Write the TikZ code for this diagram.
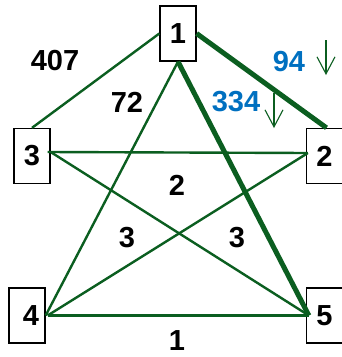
\documentclass[tikz,border=0pt]{standalone}
\usepackage{fontspec}
\setmainfont{Liberation Sans}
\usetikzlibrary{arrows.meta}
\definecolor{verde}{RGB}{11, 94, 32}
\definecolor{azul}{RGB}{0, 112, 192}

\begin{document}
\begin{tikzpicture}[
    x=1pt, y=-1pt,
    caixa/.style={
        draw,
        line width=1.3pt,
        minimum width=36pt,
        minimum height=55pt,
        inner sep=0pt,
        font=\fontsize{29}{30}\selectfont\bfseries
    },
    peso/.style={
        font=\fontsize{29}{30}\selectfont\bfseries
    },
    aresta/.style={
        draw=verde,
        line width=2.4pt
    },
    forte/.style={
        draw=verde,
        line width=5pt
    },
    seta/.style={
        -{Straight Barb[length=17pt,width=18pt]},
        draw=verde,
        line width=1.1pt
    }
]

\useasboundingbox (0,0) rectangle (342,357);

\node[caixa] (n1) at (178,33.5) {1};
\node[caixa] (n3) at (32,156) {3};
\node[caixa] (n2) at (324.5,156) {2};
\node[caixa] (n4) at (27,315.5) {\hspace*{8pt}4};
\node[caixa] (n5) at (324.5,315.5) {5};

\draw[aresta] (n1.west) -- (n3.north);
\draw[forte] (n1.east) -- ([xshift=2pt]n2.north);
\draw[aresta] (n1.south) -- (n4.east);
\draw[forte] (n1.south) -- ([xshift=3pt]n5.west);
\draw[aresta] ([xshift=-3pt,yshift=4pt]n3.east) -- ([xshift=2pt,yshift=3pt]n2.west);
\draw[aresta] ([yshift=4pt]n3.east) -- ([xshift=3pt]n5.west);
\draw[aresta] ([xshift=2pt]n4.east) -- ([xshift=2pt,yshift=3pt]n2.west);
\draw[aresta] ([xshift=2pt]n4.east) -- ([xshift=3pt]n5.west);

\node[peso] (w407) at (55,61) {407};
\node[peso] (w72) at (127,102) {72};
\node[peso, text=azul] (w94) at (289,62) {94};
\node[peso, text=azul] (w334) at (236,102) {334};
\node[peso] (w2) at (177,185) {2};
\node[peso] (w3a) at (127,238) {3};
\node[peso] (w3b) at (237,238) {3};
\node[peso] (w1) at (177,341) {1};

\coordinate (s94a) at (326,40);
\coordinate (s94b) at (326,75);
\coordinate (s334a) at (274,93);
\coordinate (s334b) at (274,128);
\draw[seta] (s94a) -- (s94b);
\draw[seta] (s334a) -- (s334b);

\end{tikzpicture}
\end{document}
